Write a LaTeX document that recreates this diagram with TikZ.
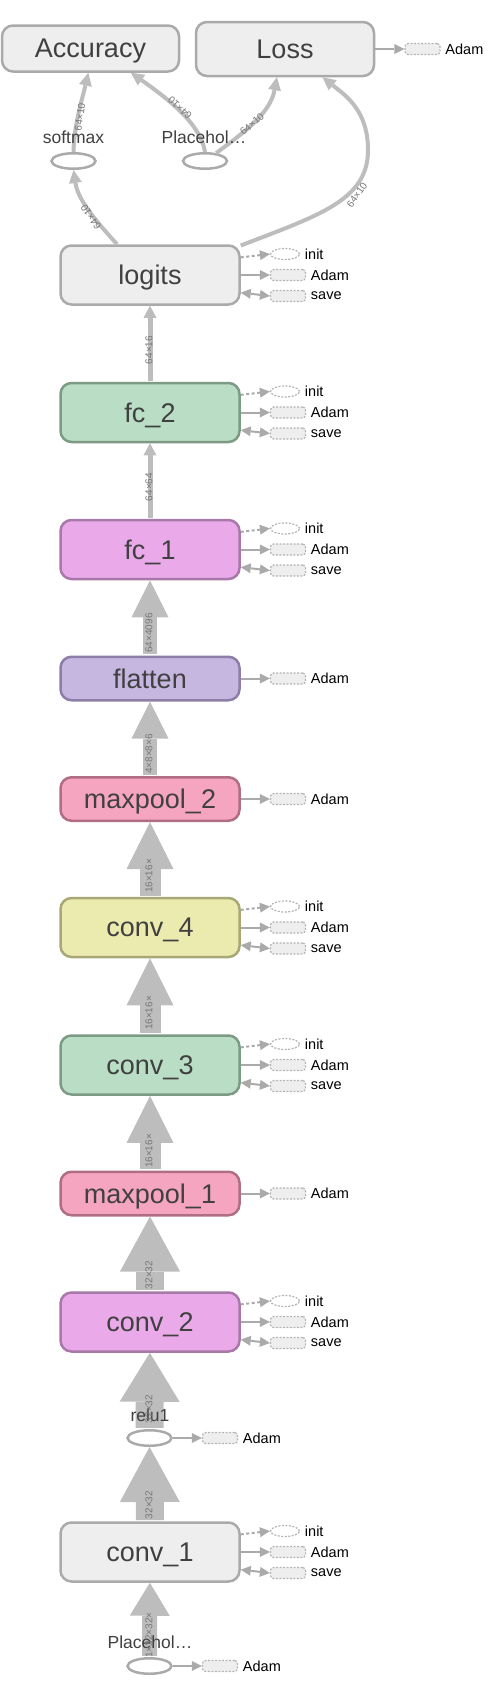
\documentclass[tikz,border=0pt]{standalone}
\usepackage{fontspec}
\setmainfont{Liberation Sans}
\usetikzlibrary{shapes.geometric,arrows.meta}
\definecolor{opgrayfill}{RGB}{238,238,238}
\definecolor{opgrayline}{RGB}{170,170,170}
\definecolor{greenfill}{RGB}{186,221,197}
\definecolor{greenline}{RGB}{125,154,133}
\definecolor{violetfill}{RGB}{234,170,234}
\definecolor{violetline}{RGB}{168,120,168}
\definecolor{purplefill}{RGB}{198,183,225}
\definecolor{purpleline}{RGB}{140,126,166}
\definecolor{pinkfill}{RGB}{245,165,192}
\definecolor{pinkline}{RGB}{176,109,134}
\definecolor{yellowfill}{RGB}{235,235,176}
\definecolor{yellowline}{RGB}{168,168,118}
\definecolor{flowgray}{RGB}{189,189,189}
\definecolor{chipline}{RGB}{180,180,180}
\definecolor{tipgray}{RGB}{170,170,170}
\definecolor{nodetext}{RGB}{64,64,64}
\definecolor{edgetext}{RGB}{118,118,118}
\tikzset{every picture/.style={line width=0.75pt}}
\tikzset{
  op/.style={draw, rounded corners=11pt, line width=2.5pt, minimum width=179pt, minimum height=59pt, inner sep=0pt, text depth=0pt, text=nodetext, font=\fontsize{27}{32}\selectfont},
  opshort/.style={op, minimum height=43.5pt},
  opgray/.style={draw=opgrayline, fill=opgrayfill},
  opgreen/.style={draw=greenline, fill=greenfill},
  opviolet/.style={draw=violetline, fill=violetfill},
  oppurple/.style={draw=purpleline, fill=purplefill},
  oppink/.style={draw=pinkline, fill=pinkfill},
  opyellow/.style={draw=yellowline, fill=yellowfill},
  var/.style={ellipse, draw=opgrayline, line width=2.5pt, fill=white, minimum width=44pt, minimum height=15.5pt, inner sep=0pt},
  varlbl/.style={font=\fontsize{17.5}{20}\selectfont, text=nodetext, inner sep=0pt},
  chiplbl/.style={font=\fontsize{14.5}{16}\selectfont, text=black, inner sep=0pt, xshift=4.5pt},
  chip/.style={draw=chipline, dash pattern=on 2pt off 1.5pt, line width=1.2pt, fill=opgrayfill, rounded corners=3pt, minimum width=35pt, minimum height=11pt, inner sep=0pt, label={[chiplbl]right:#1}},
  initchip/.style={ellipse, draw=chipline, dash pattern=on 2pt off 1.5pt, line width=1.2pt, fill=white, minimum width=29pt, minimum height=11pt, inner sep=0pt, label={[chiplbl]right:#1}},
  chiparrow/.style={draw=tipgray, line width=2pt, -{Triangle[length=10pt,width=10pt,line width=0pt]}},
  initarrow/.style={chiparrow, dash pattern=on 3pt off 2.5pt},
  savearrow/.style={draw=tipgray, line width=2pt, {Triangle[length=10pt,width=10pt,line width=0pt]}-{Triangle[length=10pt,width=10pt,line width=0pt]}},
  flow/.style n args={3}{draw=flowgray, line width=#1, shorten <=1.2pt, -{Triangle[length=#2,width=#3,line width=0pt]}},
  curve/.style={draw=flowgray, line width=4pt, -{Triangle[length=13pt,width=13pt,line width=0pt]}},
  elabel/.style={font=\fontsize{10}{11}\selectfont, text=edgetext, inner sep=0pt}
}
\begin{document}
\begin{tikzpicture}[x=1pt,y=1pt,yscale=-1,xscale=1]
\useasboundingbox (0,0) rectangle (498,1700);
%Rounded Rect: top row
\node[op, opgray, minimum width=177pt, minimum height=46pt] (accuracy) at (90.5,48.5) {Accuracy};
\node[op, opgray, minimum width=178pt, minimum height=54pt] (loss) at (285,49) {Loss};
\node[chip=Adam] (lossAdam) at (422.5,49) {};
%Shape: Ellipse
\node[var] (softmax) at (73.5,161) {};
\node[var] (placeholderTop) at (205,161) {};
%Rounded Rect: layers
\node[op, opgray] (logits) at (150,275) {logits};
\node[op, opgreen] (fc2) at (150,412.5) {fc\_2};
\node[op, opviolet] (fc1) at (150,549.5) {fc\_1};
\node[opshort, oppurple] (flatten) at (150,678.5) {flatten};
\node[opshort, oppink] (maxpool2) at (150,799) {maxpool\_2};
\node[op, opyellow] (conv4) at (150,927.5) {conv\_4};
\node[op, opgreen] (conv3) at (150,1065) {conv\_3};
\node[opshort, oppink] (maxpool1) at (150,1193.5) {maxpool\_1};
\node[op, opviolet] (conv2) at (150,1322) {conv\_2};
\node[var] (relu1) at (149.5,1438) {};
\node[op, opgray] (conv1) at (150,1552) {conv\_1};
\node[var] (placeholderIn) at (149.5,1666) {};
%Side chips
\node[initchip=init] (logitsInit) at (285,254) {};
\node[chip=Adam] (logitsAdam) at (288,275) {};
\node[chip=save] (logitsSave) at (288,296) {};
\node[initchip=init] (fc2Init) at (285,391.5) {};
\node[chip=Adam] (fc2Adam) at (288,412.5) {};
\node[chip=save] (fc2Save) at (288,433.5) {};
\node[initchip=init] (fc1Init) at (285,528.5) {};
\node[chip=Adam] (fc1Adam) at (288,549.5) {};
\node[chip=save] (fc1Save) at (288,570.5) {};
\node[chip=Adam] (flattenAdam) at (288,678.5) {};
\node[chip=Adam] (maxpool2Adam) at (288,799) {};
\node[initchip=init] (conv4Init) at (285,906.5) {};
\node[chip=Adam] (conv4Adam) at (288,927.5) {};
\node[chip=save] (conv4Save) at (288,948.5) {};
\node[initchip=init] (conv3Init) at (285,1044) {};
\node[chip=Adam] (conv3Adam) at (288,1065) {};
\node[chip=save] (conv3Save) at (288,1086) {};
\node[chip=Adam] (maxpool1Adam) at (288,1193.5) {};
\node[initchip=init] (conv2Init) at (285,1301) {};
\node[chip=Adam] (conv2Adam) at (288,1322) {};
\node[chip=save] (conv2Save) at (288,1343) {};
\node[chip=Adam] (relu1Adam) at (220,1438) {};
\node[initchip=init] (conv1Init) at (285,1531) {};
\node[chip=Adam] (conv1Adam) at (288,1552) {};
\node[chip=save] (conv1Save) at (288,1573) {};
\node[chip=Adam] (placeholderInAdam) at (220,1666) {};
%Straight Lines: side arrows
\draw[chiparrow] (loss) -- (lossAdam);
\draw[initarrow] (logits.11) -- (logitsInit.west);
\draw[chiparrow] (logits) -- (logitsAdam);
\draw[savearrow] (logits.-11) -- (logitsSave.west);
\draw[initarrow] (fc2.11) -- (fc2Init.west);
\draw[chiparrow] (fc2) -- (fc2Adam);
\draw[savearrow] (fc2.-11) -- (fc2Save.west);
\draw[initarrow] (fc1.11) -- (fc1Init.west);
\draw[chiparrow] (fc1) -- (fc1Adam);
\draw[savearrow] (fc1.-11) -- (fc1Save.west);
\draw[chiparrow] (flatten) -- (flattenAdam);
\draw[chiparrow] (maxpool2) -- (maxpool2Adam);
\draw[initarrow] (conv4.11) -- (conv4Init.west);
\draw[chiparrow] (conv4) -- (conv4Adam);
\draw[savearrow] (conv4.-11) -- (conv4Save.west);
\draw[initarrow] (conv3.11) -- (conv3Init.west);
\draw[chiparrow] (conv3) -- (conv3Adam);
\draw[savearrow] (conv3.-11) -- (conv3Save.west);
\draw[chiparrow] (maxpool1) -- (maxpool1Adam);
\draw[initarrow] (conv2.11) -- (conv2Init.west);
\draw[chiparrow] (conv2) -- (conv2Adam);
\draw[savearrow] (conv2.-11) -- (conv2Save.west);
\draw[chiparrow] (relu1) -- (relu1Adam);
\draw[initarrow] (conv1.11) -- (conv1Init.west);
\draw[chiparrow] (conv1) -- (conv1Adam);
\draw[savearrow] (conv1.-11) -- (conv1Save.west);
\draw[chiparrow] (placeholderIn) -- (placeholderInAdam);
%Straight Lines: tensors
\draw[flow={5pt}{12pt}{13pt}] (fc2) -- (logits);
\draw[flow={5pt}{12pt}{13pt}] (fc1) -- (fc2);
\draw[flow={14pt}{37pt}{37pt}] (flatten) -- (fc1);
\draw[flow={14pt}{37pt}{37pt}] (maxpool2) -- (flatten);
\draw[flow={21pt}{47pt}{47pt}] (conv4) -- (maxpool2);
\draw[flow={21pt}{47pt}{47pt}] (conv3) -- (conv4);
\draw[flow={21pt}{47pt}{47pt}] (maxpool1) -- (conv3);
\draw[flow={28pt}{55pt}{60pt}] (conv2) -- (maxpool1);
\draw[flow={28pt}{49pt}{60pt}] (relu1) -- (conv2);
\draw[flow={28pt}{55pt}{60pt}] (conv1) -- (relu1);
\draw[flow={15pt}{33pt}{40pt}] (placeholderIn) -- (conv1);
%Curve Lines
\draw[curve] (softmax.north) .. controls (74,125) and (82,100) .. (accuracy.-95);
\draw[curve] (placeholderTop.north) .. controls (201,125) and (170,100) .. (accuracy.-31);
\draw[curve] (placeholderTop.35) .. controls (240,135) and (270,115) .. (loss.-106);
\draw[curve] (logits.137) .. controls (95,220) and (78,200) .. (softmax.south);
\draw[curve] (logits.18) .. controls (320,215) and (368,200) .. (368,150) .. controls (368,110) and (345,95) .. (loss.-37);
% Text Node
\node[varlbl] (softmaxLbl) at (73.5,137) {softmax};
\node[varlbl] (placeholderTopLbl) at (204,137) {Placehol…};
\node[varlbl] (relu1Lbl) at (150,1415) {relu1};
\node[varlbl] (placeholderInLbl) at (150,1642) {Placehol…};
% Text Node: edge labels
\node[elabel, rotate=82] at (80,117) {64×10};
\node[elabel, rotate=138] at (180,108) {64×10};
\node[elabel, rotate=41] at (252,124) {64×10};
\node[elabel, rotate=124] at (91,217) {64×10};
\node[elabel, rotate=55] at (357,195) {64×10};
\node[elabel, rotate=90] at (149,350) {64×16};
\node[elabel, rotate=90] at (149,487) {64×64};
\node[elabel, rotate=90] at (149,633) {64×4096};
\node[elabel, rotate=90] at (149,754) {4×8×8×6};
\node[elabel, rotate=90] at (149,876) {16×16×};
\node[elabel, rotate=90] at (149,1013) {16×16×};
\node[elabel, rotate=90] at (149,1151) {16×16×};
\node[elabel, rotate=90] at (149,1275) {32×32};
\node[elabel, rotate=90] at (149,1409) {32×32};
\node[elabel, rotate=90] at (149,1505) {32×32};
\node[elabel, rotate=90] at (149,1635) {1×32×32×};
\end{tikzpicture}
\end{document}
